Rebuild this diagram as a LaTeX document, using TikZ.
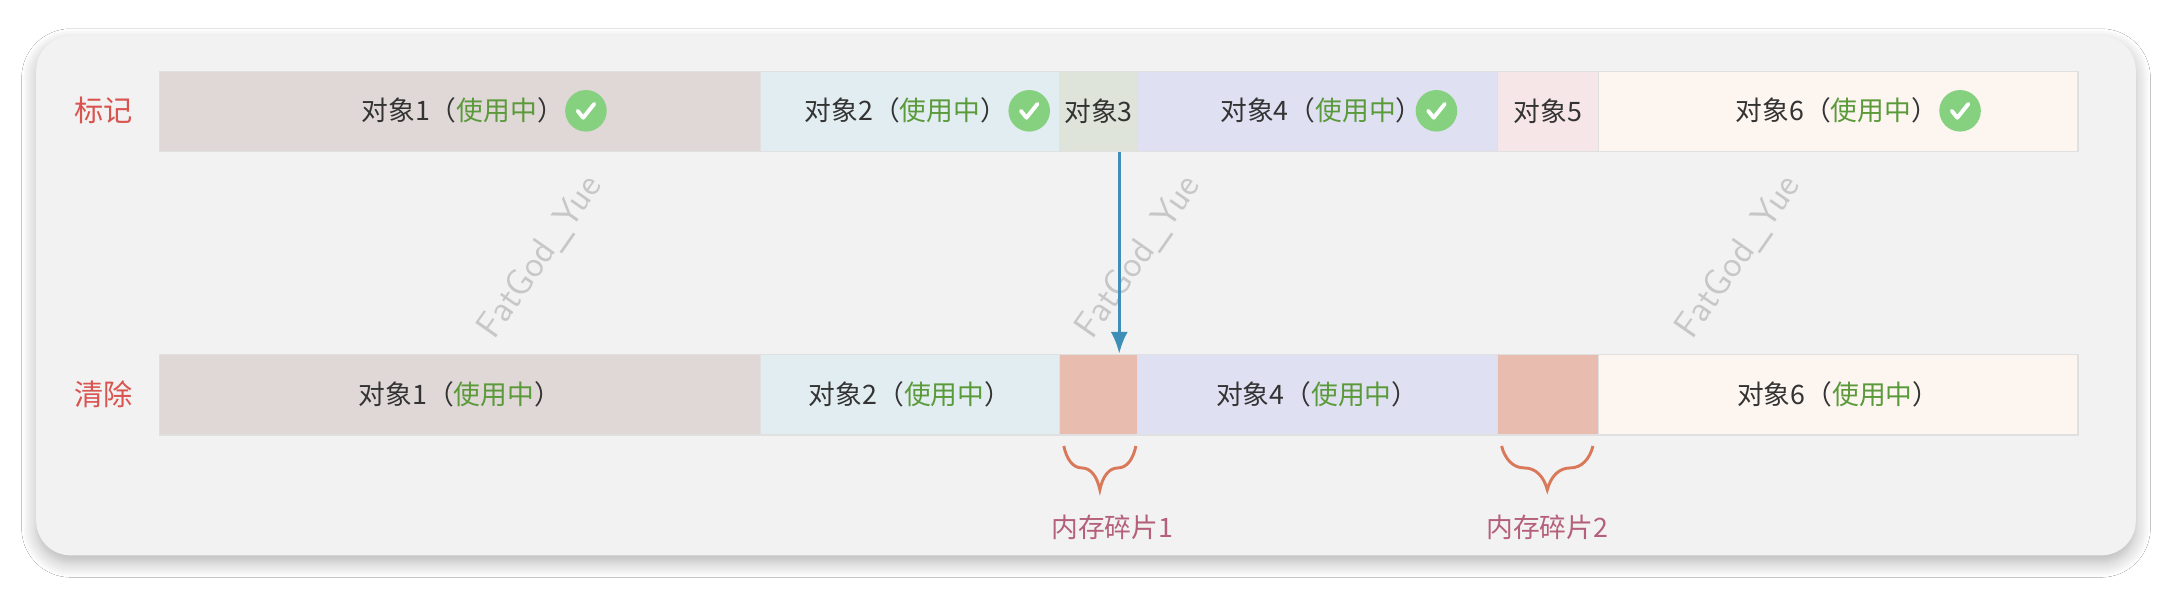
\documentclass[tikz,border=0pt]{standalone}
\usepackage{fontspec}
\setmainfont{Noto Sans CJK SC}
\usetikzlibrary{decorations.pathreplacing,shadows.blur,arrows.meta}
\definecolor{cardbg}{HTML}{F2F2F2}
\definecolor{oa}{HTML}{E0D7D7}
\definecolor{ob}{HTML}{E2EDF1}
\definecolor{oc}{HTML}{DFE4DA}
\definecolor{od}{HTML}{DFE1F2}
\definecolor{oe}{HTML}{F6E6E8}
\definecolor{of}{HTML}{FCF5F0}
\definecolor{frag}{HTML}{E9BCB0}
\definecolor{txt}{HTML}{333333}
\definecolor{grn}{HTML}{5B9A3A}
\definecolor{redl}{HTML}{D9534F}
\definecolor{fragl}{HTML}{B5607A}
\definecolor{brc}{HTML}{D9795A}
\definecolor{arr}{HTML}{3E8FB8}
\definecolor{chk}{HTML}{86D17F}
\tikzset{
  cell/.style={draw=black!12, line width=0.6pt, inner sep=0pt, text=txt, font=\fontsize{11}{13}\selectfont},
  rowlab/.style={text=redl, font=\fontsize{12}{14}\selectfont},
  fraglab/.style={text=fragl, font=\fontsize{11}{13}\selectfont},
  brace/.style={draw=brc, line width=1.2pt, decorate, decoration={brace, amplitude=18pt, mirror}},
  wm/.style={text=black!22, rotate=55, font=\sffamily\fontsize{15}{17}\selectfont}
}
\newcommand{\us}{（\textcolor{grn}{使用中}）}
\newcommand{\ok}[1]{\node[circle, fill=chk, minimum size=0.6cm, inner sep=0pt] at (#1,80) {};
  \draw[white, line width=1.6pt, line cap=round, line join=round] (#1-6,80) -- (#1-2,85) -- (#1+6,75);}
\begin{document}
\begin{tikzpicture}[x=0.02cm, y=-0.02cm]
\useasboundingbox (0,0) rectangle (1568,427.4);
\fill[white] (0,0) rectangle (1568,427.4);
\node[draw=none, fill=cardbg, rounded corners=0.5cm, minimum width=30.32cm, minimum height=7.5cm, blur shadow={shadow blur steps=8, shadow xshift=0pt, shadow yshift=-3pt, shadow blur radius=6pt, shadow opacity=30}] (card) at (784,213.5) {};
% watermarks
\node[wm] (w1) at (390,186) {FatGod\_Yue};
\node[wm] (w2) at (822,186) {FatGod\_Yue};
\node[wm] (w3) at (1255,186) {FatGod\_Yue};
% labels
\node[rowlab] (lm) at (75,80) {标记};
\node[rowlab] (lc) at (75,285) {清除};
% rows
\newcommand{\cellbox}[6]{\node[cell, fill=#4, minimum width=(#3-#2)*0.02cm, minimum height=1.16cm] (#1) at ({(#2+#3)/2},#5) {#6};}
\cellbox{t1}{115}{549}{oa}{80.5}{}
\cellbox{t2}{549}{765}{ob}{80.5}{}
\cellbox{t3}{765}{821}{oc}{80.5}{对象3}
\cellbox{t4}{821}{1081}{od}{80.5}{}
\cellbox{t5}{1081}{1154}{oe}{80.5}{对象5}
\cellbox{t6}{1154}{1500}{of}{80.5}{}
\node[text=txt, font=\fontsize{11}{13}\selectfont] (l1) at (334,80) {对象1\us};
\node[text=txt, font=\fontsize{11}{13}\selectfont] (l2) at (654,80) {对象2\us};
\node[text=txt, font=\fontsize{11}{13}\selectfont] (l4) at (954,80) {对象4\us};
\node[text=txt, font=\fontsize{11}{13}\selectfont] (l6) at (1326,80) {对象6\us};
\ok{423}\ok{743}\ok{1037}\ok{1415}
\cellbox{b1}{115}{549}{oa}{285}{对象1\us}
\cellbox{b2}{549}{765}{ob}{285}{对象2\us}
\cellbox{b3}{765}{821}{frag}{285}{}
\cellbox{b4}{821}{1081}{od}{285}{对象4\us}
\cellbox{b5}{1081}{1154}{frag}{285}{}
\cellbox{b6}{1154}{1500}{of}{285}{对象6\us}
% arrow
\draw[arr, line width=1.4pt, -{Latex[length=9pt,width=7pt]}] ([xshift=0.3cm]t3.south) -- ([xshift=0.3cm]b3.north);
% braces
\draw[brace] (768,322) -- (820,322);
\draw[brace] (1084,322) -- (1150,322);
\node[fraglab] (f1) at (803,381) {内存碎片1};
\node[fraglab] (f2) at (1117,381) {内存碎片2};
\end{tikzpicture}
\end{document}
